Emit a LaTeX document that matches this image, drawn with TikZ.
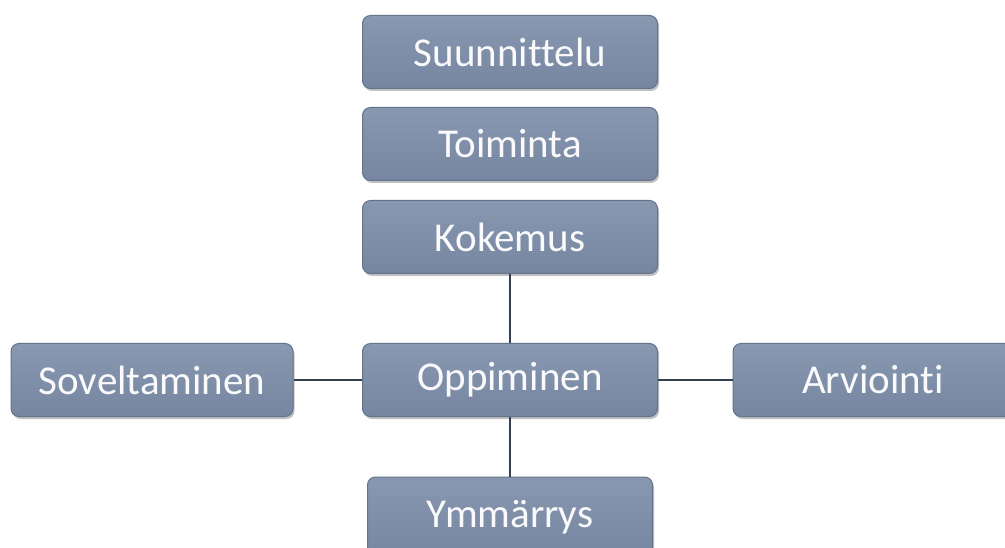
\documentclass[tikz,border=0pt]{standalone}
\usepackage{fontspec}
\setmainfont{Carlito}[Ligatures=NoCommon]
\usetikzlibrary{shadows}
\definecolor{boxfill}{RGB}{128,145,171}
\definecolor{boxtop}{RGB}{136,152,177}
\definecolor{boxbot}{RGB}{118,134,160}
\definecolor{boxedge}{RGB}{100,114,140}
\definecolor{linecol}{RGB}{52,64,80}
\definecolor{txt}{RGB}{250,250,252}
\tikzset{
  x=1pt, y=-1pt,
  stepbox/.style={rectangle, rounded corners=8pt, draw=boxedge, line width=1pt,
    top color=boxtop, bottom color=boxbot, text=txt,
    font=\fontsize{41}{43}\selectfont, inner sep=0pt,
    drop shadow={shadow xshift=1.5pt, shadow yshift=-2.5pt, opacity=0.35, fill=black!70}},
  conn/.style={draw=linecol, line width=2.2pt}
}
\begin{document}
\begin{tikzpicture}
\useasboundingbox (0,0) rectangle (1005,548);
\fill[white] (0,0) rectangle (1005,548);
\node[stepbox, minimum width=295pt, minimum height=73pt] (suun) at (510,52) {Suunnittelu};
\node[stepbox, minimum width=295pt, minimum height=73pt] (toim) at (510,144) {Toiminta};
\node[stepbox, minimum width=295pt, minimum height=73pt] (koke) at (510,237) {Kokemus};
\node[stepbox, minimum width=295pt, minimum height=73pt] (oppi) at (510,380) {Oppiminen};
\node[stepbox, minimum width=282pt, minimum height=73pt] (sove) at (152,380) {Soveltaminen};
\node[stepbox, minimum width=280pt, minimum height=73pt] (arvi) at (873,380) {Arviointi};
\node[stepbox, minimum width=285pt, minimum height=80pt] (ymma) at (510,517) {Ymmärrys};
\draw[conn] (koke.south) -- (oppi.north);
\draw[conn] (oppi.south) -- (ymma.north);
\draw[conn] (sove.east) -- (oppi.west);
\draw[conn] (oppi.east) -- (arvi.west);
\end{tikzpicture}
\end{document}
